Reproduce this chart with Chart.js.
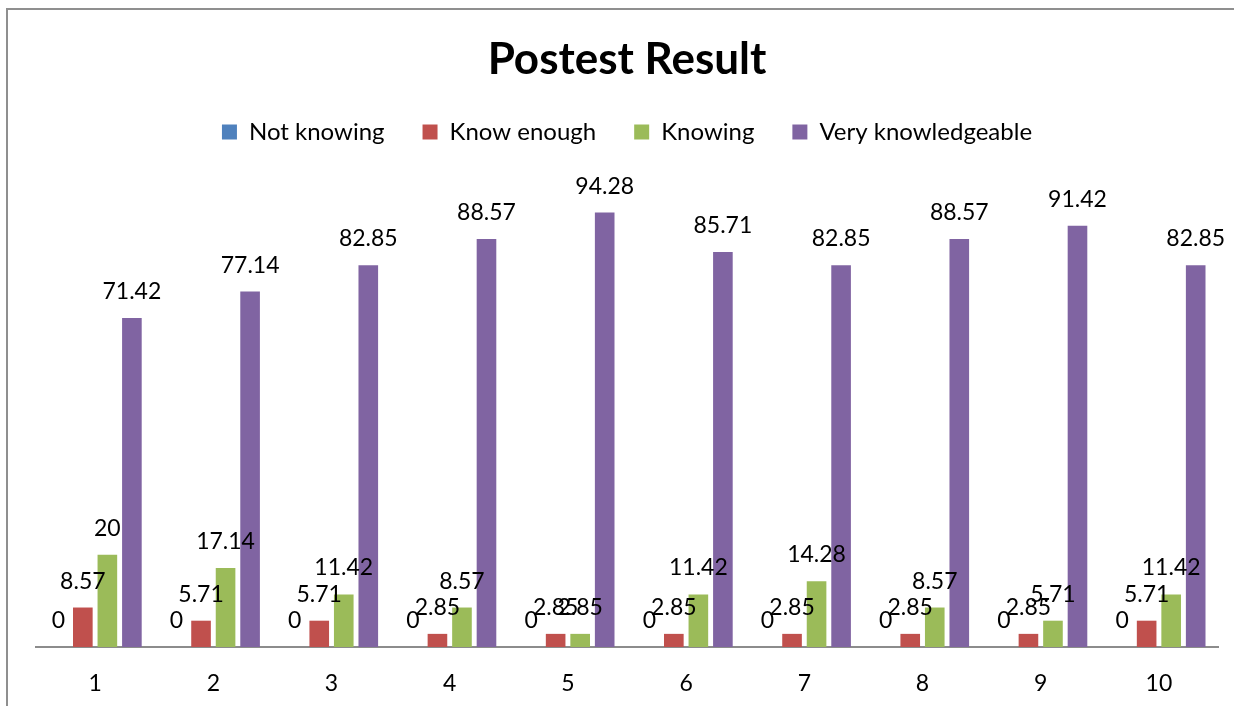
<html>
<head>
  <meta charset="utf-8">
  <title>Postest Result</title>
  <script src="https://cdn.jsdelivr.net/npm/chart.js@4.4.1/dist/chart.umd.min.js"></script>
  <style>
    body { margin: 0; overflow: hidden; background: #fff; }
    #frame {
      position: absolute; left: 6px; top: 8px;
      width: 1400px; height: 900px;
      border: 2px solid #8f8f8f;
    }
    #myChart { position: absolute; left: 0; top: 0; }
  </style>
</head>
<body>
  <div id="frame"></div>
  <canvas id="myChart" width="1234" height="706"></canvas>

<script>
  // data
  var questions = ['1', '2', '3', '4', '5', '6', '7', '8', '9', '10'];
  var notKnowing = [0, 0, 0, 0, 0, 0, 0, 0, 0, 0];
  var knowEnough = [8.57, 5.71, 5.71, 2.85, 2.85, 2.85, 2.85, 2.85, 2.85, 5.71];
  var knowing = [20, 17.14, 11.42, 8.57, 2.85, 11.42, 14.28, 8.57, 5.71, 11.42];
  var veryKnowledgeable = [71.42, 77.14, 82.85, 88.57, 94.28, 85.71, 82.85, 88.57, 91.42, 82.85];

  Chart.defaults.font.family = 'Lato';
  Chart.defaults.color = '#000';

  // value labels above every bar
  var barLabels = {
    id: 'barLabels',
    afterDatasetsDraw: function (chart) {
      var ctx = chart.ctx;
      ctx.save();
      ctx.font = '23px Lato';
      ctx.fillStyle = '#000';
      ctx.textAlign = 'center';
      ctx.textBaseline = 'alphabetic';
      chart.data.datasets.forEach(function (ds, i) {
        chart.getDatasetMeta(i).data.forEach(function (bar, j) {
          ctx.fillText(String(ds.data[j]), bar.x, bar.y - 19);
        });
      });
      ctx.restore();
    }
  };

  var ctx = document.getElementById('myChart').getContext('2d');
  var chart1 = new Chart(ctx, {
    type: 'bar',
    data: {
      labels: questions,
      datasets: [
        { label: 'Not knowing', backgroundColor: '#4F81BD', data: notKnowing },
        { label: 'Know enough', backgroundColor: '#C0504D', data: knowEnough },
        { label: 'Knowing', backgroundColor: '#9BBB59', data: knowing },
        { label: 'Very knowledgeable', backgroundColor: '#8064A2', data: veryKnowledgeable }
      ]
    },
    options: {
      responsive: false,
      animation: false,
      categoryPercentage: 0.83,
      barPercentage: 0.8,
      layout: { padding: { top: 38, left: 36, right: 16, bottom: 0 } },
      plugins: {
        title: {
          display: true,
          text: 'Postest Result',
          color: '#000',
          font: { size: 44, weight: 'bold', lineHeight: 1 },
          padding: { top: 0, bottom: 0 }
        },
        legend: {
          display: true,
          position: 'top',
          labels: {
            boxWidth: 15,
            boxHeight: 15,
            padding: 38,
            color: '#000',
            font: { size: 24 }
          }
        },
        tooltip: { enabled: false }
      },
      scales: {
        x: {
          grid: { display: false, drawTicks: false },
          border: { display: true, color: '#8c8c8c', width: 2 },
          ticks: { font: { size: 23 }, padding: 23, color: '#000' },
          afterFit: function (scale) { scale.height = 59; }
        },
        y: {
          display: false,
          min: 0,
          max: 107
        }
      }
    },
    plugins: [barLabels]
  });
</script>
</body>
</html>
